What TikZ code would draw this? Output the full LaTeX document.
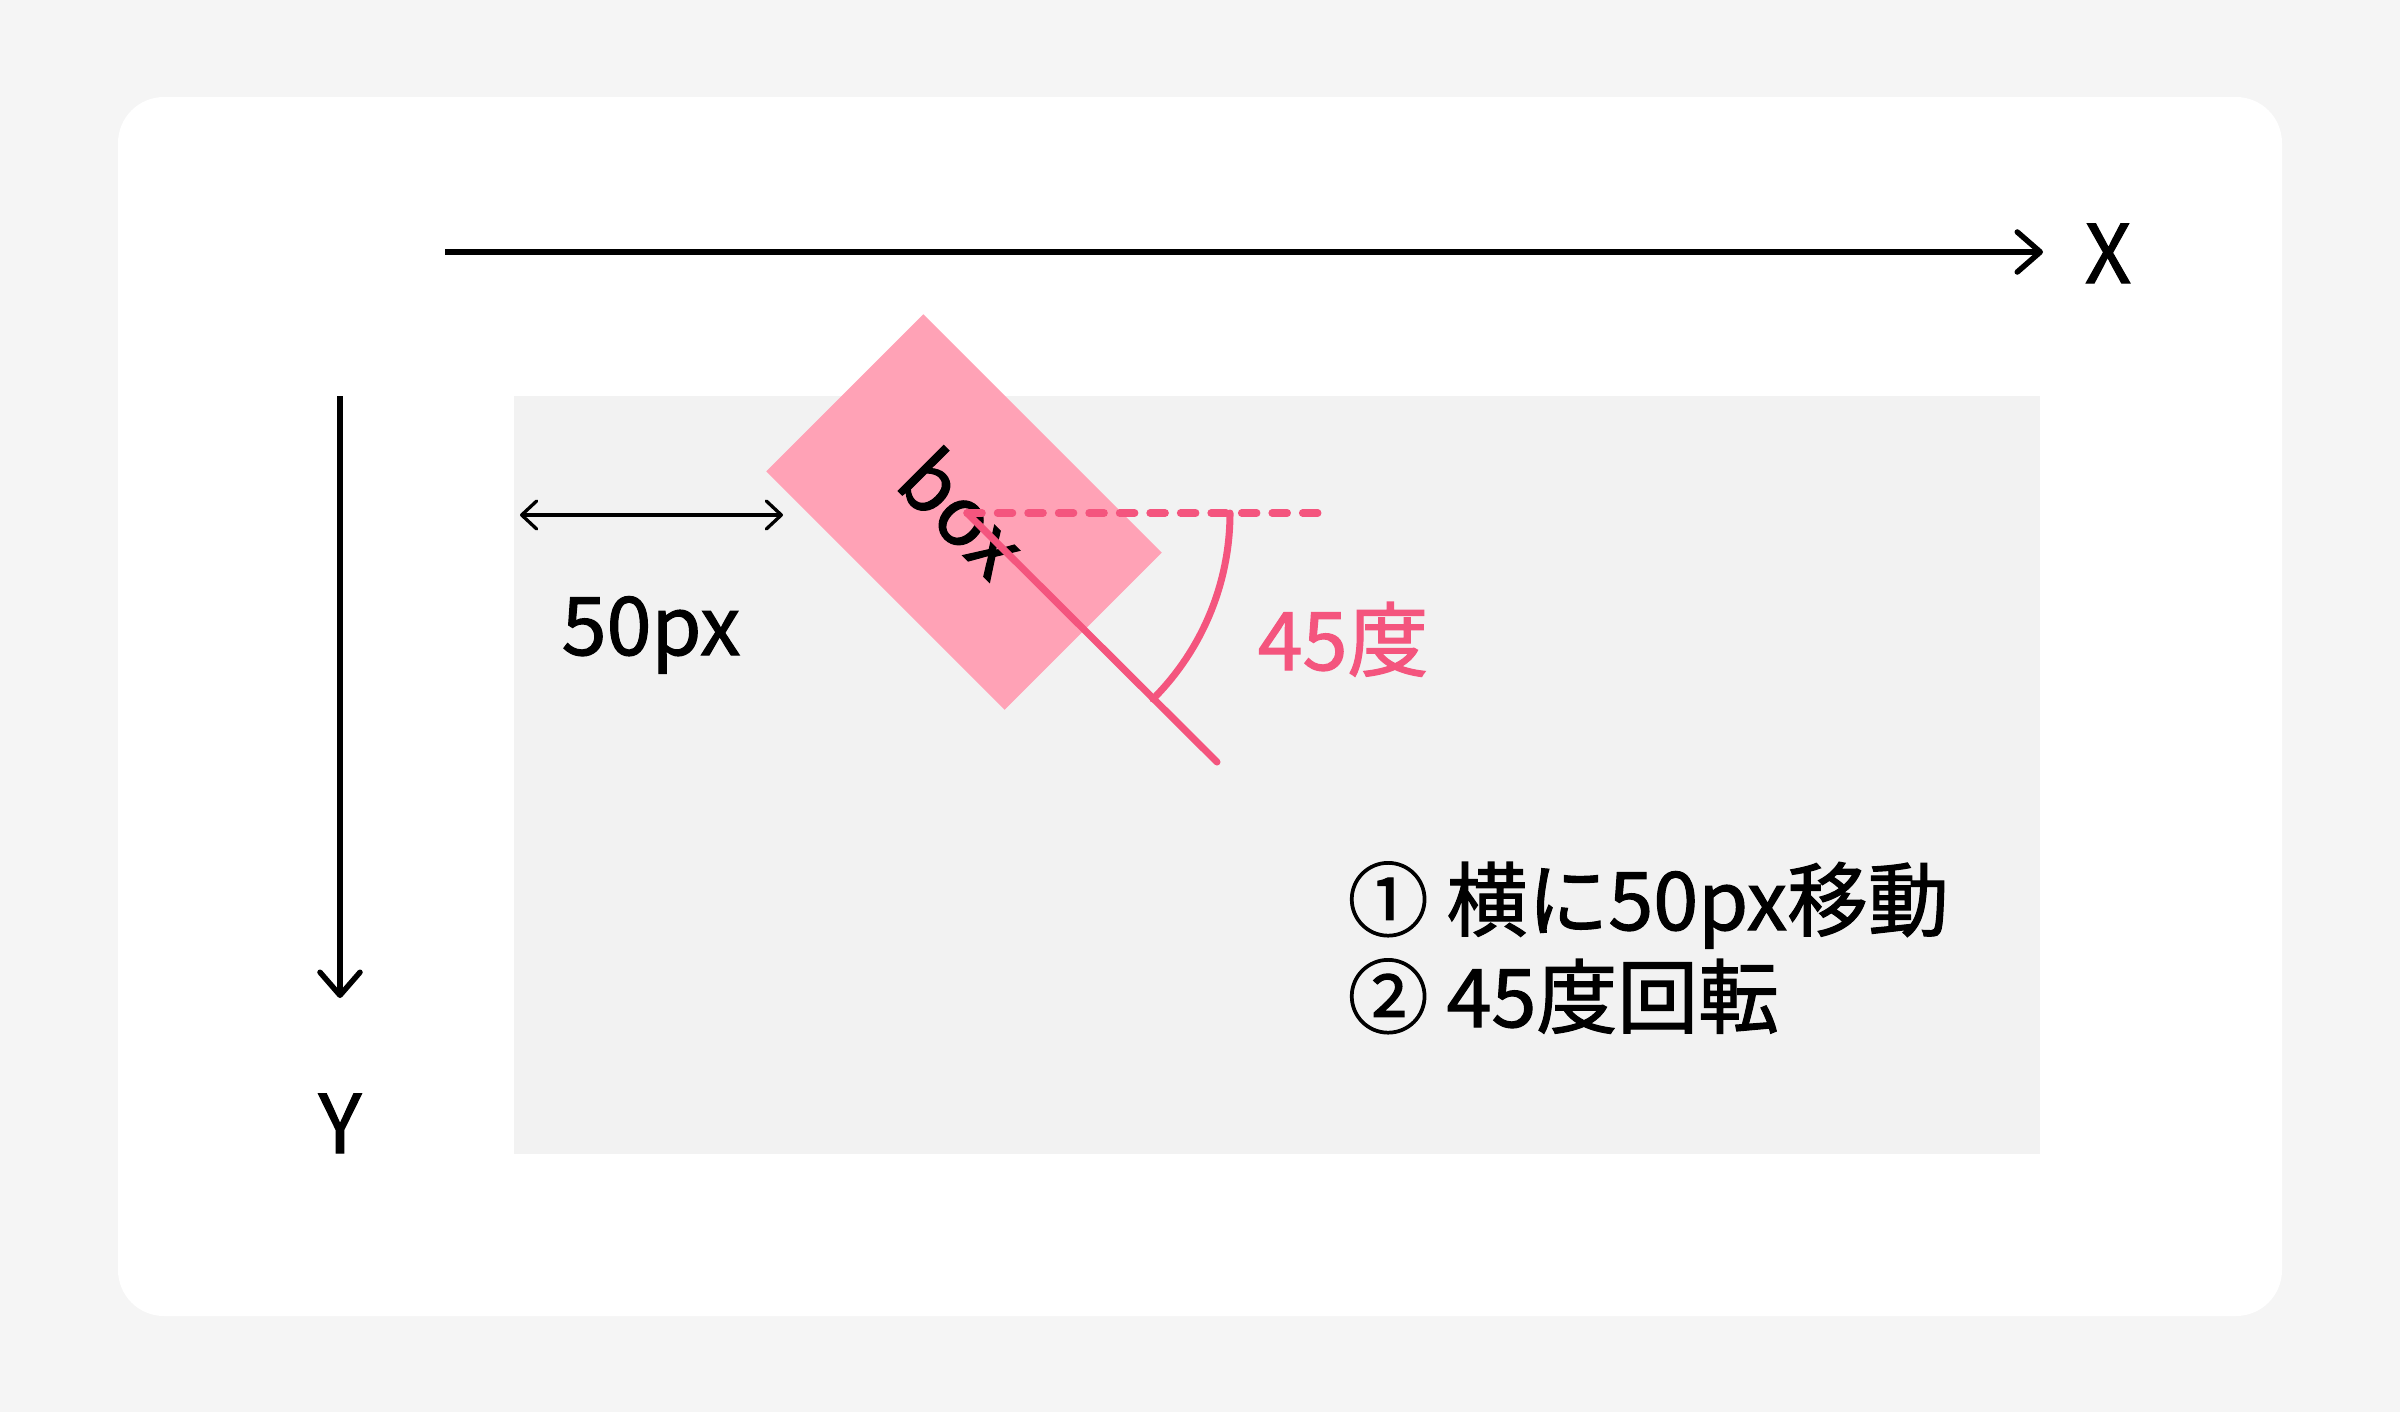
\documentclass[tikz,border=0pt]{standalone}
\usepackage{fontspec}
\setmainfont{Noto Sans CJK JP}[FakeBold=1.4]
\usetikzlibrary{arrows.meta}

\definecolor{pagegray}{HTML}{F5F5F5}
\definecolor{areagray}{HTML}{F2F2F2}
\definecolor{boxpink}{HTML}{FFA2B6}
\definecolor{linepink}{HTML}{F4557E}

\begin{document}
\begin{tikzpicture}[x=0.01cm, y=-0.01cm,
    txt/.style={inner sep=0pt, font=\fontsize{23}{27}\selectfont},
    axis/.style={line width=0.055cm, -{Straight Barb[length=0.23cm, width=0.4cm, round]}},
    measure/.style={line width=0.033cm, {Straight Barb[length=0.15cm, width=0.28cm, round]}-{Straight Barb[length=0.15cm, width=0.28cm, round]}},
    boxshape/.style={txt, fill=boxpink, minimum width=3.37cm, minimum height=2.22cm},
    guide/.style={linepink, line width=0.075cm, line cap=round, dash pattern=on 0.15cm off 0.155cm},
    turn/.style={linepink, line width=0.07cm, line cap=round}]

    % Background, card and area
    \fill[pagegray] (0,0) rectangle (2400,1412);
    \fill[white, rounded corners=0.46cm] (118,97) rectangle (2282,1316);
    \fill[areagray] (514,396) rectangle (2040,1154);

    % Draw axes
    \coordinate (xfrom) at (445,252);
    \coordinate (xto) at (2043,252);
    \draw[axis] (xfrom) -- (xto);
    \node[txt, anchor=base] (xname) at (2108,283) {X};

    \coordinate (yfrom) at (340,396);
    \coordinate (yto) at (340,998);
    \draw[axis] (yfrom) -- (yto);
    \node[txt, anchor=base] (yname) at (340,1153) {Y};

    % Shift of 50px
    \coordinate (shiftfrom) at (520,515);
    \coordinate (shiftto) at (783,515);
    \draw[measure] (shiftfrom) -- (shiftto);
    \node[txt, anchor=base] (shiftlabel) at (651,655) {50px};

    % Rotated box
    \node[boxshape, rotate=-45] (box) at (964,512) {box};

    % Angle of 45 degrees
    \coordinate (pivot) at (967,513);
    \coordinate (guideend) at (1318,513);
    \coordinate (turnend) at (1217,762);
    \coordinate (arcstart) at (1230,513);
    \draw[guide] (pivot) -- (guideend);
    \draw[turn] (pivot) -- (turnend);
    \draw[turn] (arcstart) arc[start angle=0, end angle=-45, radius=2.63cm];
    \node[txt, text=linepink, anchor=base west] (anglelabel) at (1257,670) {45度};

    % Steps
    \foreach \i/\y/\t in {1/930/① 横に50px移動, 2/1027/② 45度回転} {
      \node[txt, anchor=base west] (item\i) at (1347,\y) {\t};
    }

\end{tikzpicture}
\end{document}
